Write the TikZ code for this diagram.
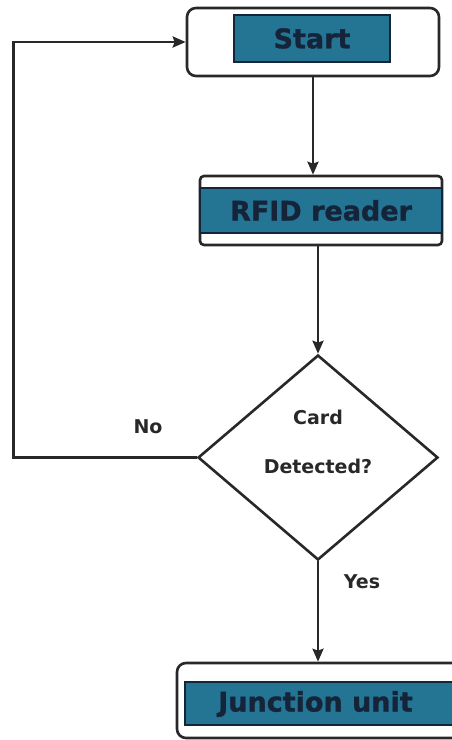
\documentclass[tikz,border=0pt]{standalone}
\usepackage{fontspec}
\setmainfont{DejaVu Sans}
\newfontfamily\boxfont{DejaVu Sans Bold}[FakeBold=1.2]
\usetikzlibrary{shapes.geometric,arrows.meta}
\definecolor{boxblue}{RGB}{36,116,148}
\definecolor{inkblue}{RGB}{22,36,58}
\definecolor{linegrey}{RGB}{40,40,40}
\tikzset{
  outerbox/.style={draw=linegrey,line width=2.6pt,fill=white,inner sep=0pt,rounded corners=9pt},
  innerbox/.style={draw=inkblue,line width=2.6pt,fill=boxblue,inner sep=0pt,text=inkblue,
    font=\boxfont\fontsize{27}{30}\selectfont},
  boxtext/.style={text=inkblue,font=\boxfont\fontsize{27}{30}\selectfont,inner sep=0pt},
  decisionbox/.style={diamond,draw=linegrey,line width=2.6pt,fill=white,inner sep=0pt},
  smalltext/.style={text=linegrey,font=\bfseries\fontsize{19}{20}\selectfont,inner sep=0pt},
  flow/.style={draw=linegrey,line width=2.6pt,-{Stealth[length=13pt,width=11pt,inset=2pt]}}
}
\begin{document}
\begin{tikzpicture}[x=1pt,y=-1pt]
  \useasboundingbox (0,0) rectangle (451,740);
  % start
  \node[outerbox,minimum width=252pt,minimum height=68pt] (startbox) at (313,42) {};
  \node[innerbox,minimum width=156pt,minimum height=47pt] (start) at (312,38.5) {Start};
  % reader
  \node[outerbox,rounded corners=4pt,minimum width=242pt,minimum height=69pt] (rfidbox) at (321,210.5) {};
  \node[innerbox,minimum width=242pt,minimum height=45pt] (rfid) at (321,210.5) {RFID reader};
  % decision
  \node[decisionbox,minimum width=240pt,minimum height=205pt] (decision) at (318,457.5) {};
  \node[smalltext,align=center,font=\bfseries\fontsize{19}{49}\selectfont] (cardtext) at (318,442) {Card\\Detected?};
  % junction
  \node[outerbox,minimum width=300pt,minimum height=75pt] (junctionbox) at (327,700.5) {};
  \node[innerbox,minimum width=300pt,minimum height=43pt] (junction) at (335,703.5) {};
  \node[boxtext] (junctionlabel) at (315.5,704) {Junction unit};
  % connectors
  \draw[flow] (startbox.south) -- (startbox.south |- rfidbox.north);
  \draw[flow] (decision.north |- rfidbox.south) -- (decision.north);
  \draw[flow] (decision.south) -- (decision.south |- junctionbox.north);
  \draw[flow] (decision.west) -- ++(-183,0) |- (startbox.west);
  \node[smalltext] (no) at (148,427) {No};
  \node[smalltext] (yes) at (362,582) {Yes};
\end{tikzpicture}
\end{document}
